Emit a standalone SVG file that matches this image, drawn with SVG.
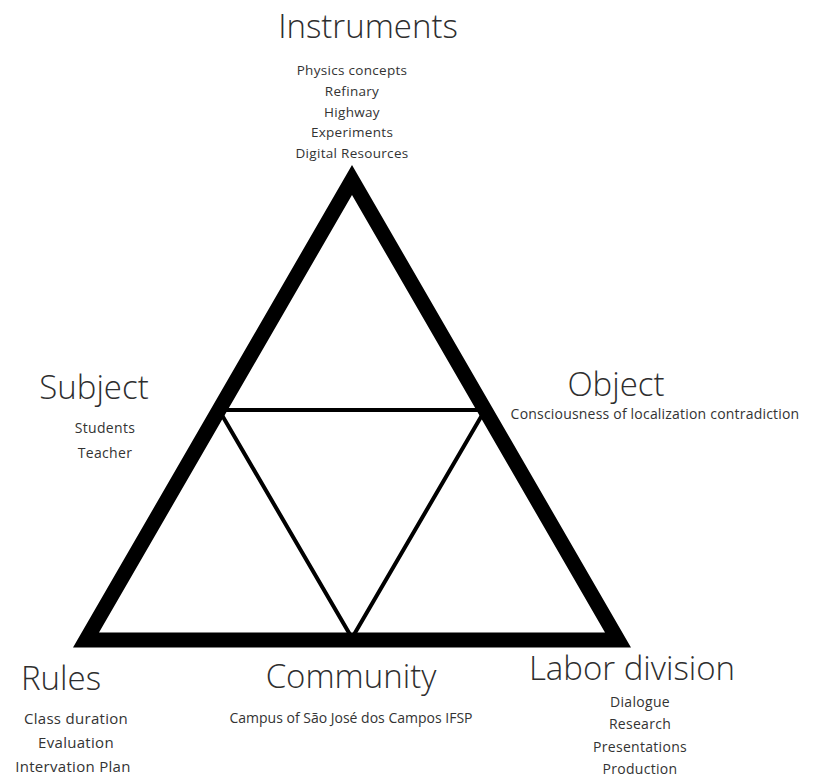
<svg xmlns="http://www.w3.org/2000/svg" width="822" height="777" viewBox="0 0 822 777">
<style>
.h{font-family:"Open Sans","Liberation Sans",sans-serif;font-weight:300;font-size:33px;fill:#2e2e2e;text-anchor:middle}
.s{font-family:"Open Sans","Liberation Sans",sans-serif;font-size:14px;letter-spacing:0.3px;fill:#333;text-anchor:middle}
</style>
<rect width="822" height="777" fill="#fff"/>
<g id="connectors" fill="none" stroke="#000">
<polygon points="352,180 86,640 618,640" stroke-width="15" stroke-linejoin="miter" stroke-miterlimit="10"/>
<polygon points="219,410 485,410 352,638" stroke-width="4"/>
</g>
<g id="instruments">
<text class="h" x="368" y="38">Instruments</text>
<text class="s" x="352" y="75" style="font-size:13.5px">Physics concepts</text>
<text class="s" x="352" y="96" style="font-size:13.5px">Refinary</text>
<text class="s" x="352" y="117" style="font-size:13.5px">Highway</text>
<text class="s" x="352" y="137" style="font-size:13.5px">Experiments</text>
<text class="s" x="352" y="158" style="font-size:13.5px">Digital Resources</text>
</g>
<g id="subject">
<text class="h" x="94" y="399">Subject</text>
<text class="s" x="105" y="433">Students</text>
<text class="s" x="105" y="458">Teacher</text>
</g>
<g id="object">
<text class="h" x="616" y="396">Object</text>
<text class="s" x="655" y="419" style="letter-spacing:0.2px">Consciousness of localization contradiction</text>
</g>
<g id="rules">
<text class="h" x="61" y="690">Rules</text>
<text class="s" x="76" y="724" style="font-size:15px">Class duration</text>
<text class="s" x="76" y="748" style="font-size:15px">Evaluation</text>
<text class="s" x="73" y="772" style="font-size:15px">Intervation Plan</text>
</g>
<g id="community">
<text class="h" x="351" y="688">Community</text>
<text class="s" x="351" y="723" style="letter-spacing:0">Campus of São José dos Campos IFSP</text>
</g>
<g id="labor">
<text class="h" x="632" y="680">Labor division</text>
<text class="s" x="640" y="707">Dialogue</text>
<text class="s" x="640" y="729">Research</text>
<text class="s" x="640" y="752">Presentations</text>
<text class="s" x="640" y="774">Production</text>
</g>
</svg>
